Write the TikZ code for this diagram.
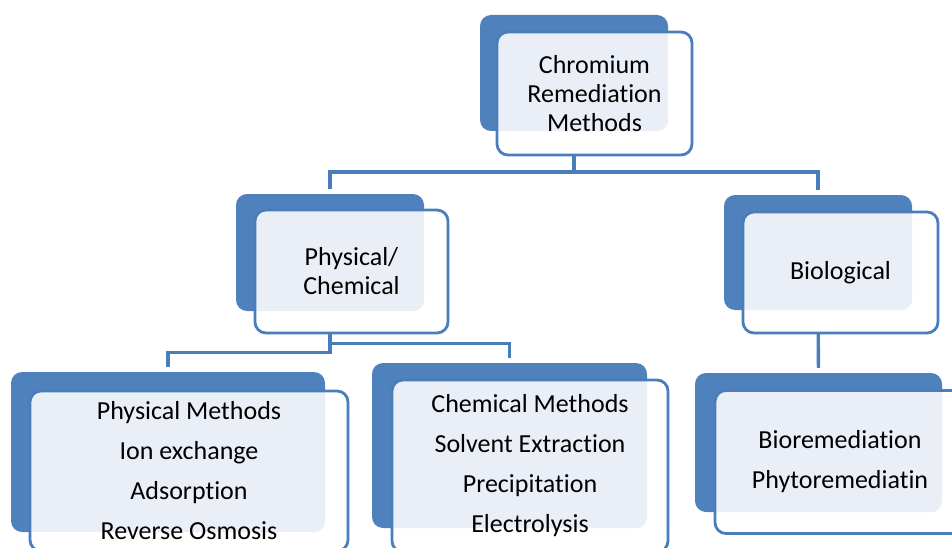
\documentclass[tikz,border=0pt]{standalone}
\usepackage{fontspec}
\setmainfont{Carlito}[Ligatures=NoCommon]
\usetikzlibrary{backgrounds}
\definecolor{CrBack}{RGB}{79,129,189}
\definecolor{CrLine}{RGB}{74,126,187}
\definecolor{CrLight}{RGB}{234,239,247}

\begin{document}
\begin{tikzpicture}[x=1pt,y=-1pt,
back/.style n args={2}{rectangle,fill=CrBack,rounded corners=11pt,inner sep=0pt,minimum width=#1pt,minimum height=#2pt},
front/.style n args={3}{rectangle,draw=CrLine,line width=2.8pt,fill=white,rounded corners=11pt,inner sep=0pt,minimum width=#1pt,minimum height=#2pt,align=center,font=\fontsize{26}{29}\selectfont,
   path picture={\fill[CrLight,rounded corners=11pt] (#3.north west) rectangle (#3.south east);}},
wide/.style={font=\fontsize{26}{40}\selectfont},
conn/.style={draw=CrLine,line width=3.4pt,shorten >=5pt}]
\useasboundingbox (0,0) rectangle (952,548);
% top level
\node[back={188}{116}](top-b) at(574,73) {};
\node[front={195}{123}{top-b}](top) at(594.5,93.5) {Chromium\\Remediation\\Methods};
% second level
\node[back={188}{117}](pc-b) at(330,252.5) {};
\node[front={193}{123}{pc-b}](pc) at(351.5,271.5) {Physical/\\Chemical};
\node[back={188}{115}](bio-b) at(818,252.5) {};
\node[front={195}{121}{bio-b}](bio) at(840.5,272.5) {Biological};
% third level
\node[back={314}{160}](phy-b) at(168,452) {};
\node[front={318}{160}{phy-b},wide](phy) at(189,471) {Physical Methods\\Ion exchange\\Adsorption\\Reverse Osmosis};
\node[back={275}{165}](chem-b) at(509.5,445.5) {};
\node[front={276}{172}{chem-b},wide](chem) at(530,466) {Chemical Methods\\Solvent Extraction\\Precipitation\\Electrolysis};
\node[back={247}{139}](br-b) at(818.5,442.5) {};
\node[front={250}{143}{br-b},wide](br) at(840,462) {Bioremediation\\Phytoremediatin};
% connectors
\begin{scope}[on background layer]
   \draw[conn] (top-b.south) -- ++(0,41) -| (pc-b.north);
   \draw[conn] (top-b.south) -- ++(0,41) -| (bio-b.north);
   \draw[conn] (pc-b.south) -- ++(0,41) -| (phy-b.north);
   \draw[conn] (pc-b.south) -- ++(0,32) -| (chem-b.north);
   \draw[conn] (bio-b.south) -- (br-b.north);
\end{scope}
\end{tikzpicture}
\end{document}
